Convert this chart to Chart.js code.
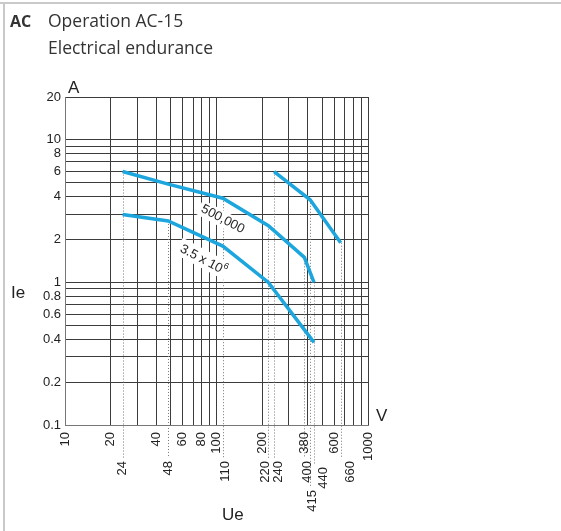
<!DOCTYPE html>
<html>
<head>
<meta charset="utf-8">
<script src="https://cdn.jsdelivr.net/npm/chart.js@4/dist/chart.umd.min.js"></script>
<style>
	body { margin: 0; background: #fff; }
	canvas { display: block; }
</style>
</head>
<body>
<canvas id="endurance" width="561" height="531"></canvas>
<script>
// Curve 500,000 operations
var volts500k = [24, 48, 110, 220, 380, 440];
var amps500k = [6, 4.9, 3.9, 2.5, 1.5, 1.0];

// Curve 3.5 x 10^6 operations
var volts35M = [24, 48, 110, 220, 440];
var amps35M = [3, 2.7, 1.8, 1.0, 0.38];

// Right-hand curve (no label)
var voltsRight = [240, 415, 660];
var ampsRight = [6, 3.8, 1.9];

// Grid and tick values
var yGrid = [0.1, 0.2, 0.3, 0.4, 0.5, 0.6, 0.7, 0.8, 0.9, 1, 2, 3, 4, 5, 6, 7, 8, 9, 10, 20];
var yLabels = [0.1, 0.2, 0.4, 0.6, 0.8, 1, 2, 4, 6, 8, 10, 20];
var xGrid = [10, 20, 30, 40, 50, 60, 70, 80, 90, 100, 200, 300, 400, 500, 600, 700, 800, 900, 1000];
var xLabelsUpper = [10, 20, 40, 60, 80, 100, 200, 380, 600, 1000];
var xLabelsLower = [24, 48, 110, 220, 240, 400, 415, 440, 660];

// Rated voltages marked with dotted drop lines, and the current where each drop starts
var markVolts = [24, 48, 110, 220, 240, 380, 415, 440, 660];
var markAmps = [6, 2.7, 3.9, 2.5, 6, 1.5, 3.8, 1.0, 1.9];

var blue = '#1ca6dd';
var gridColor = '#3c3c3c';
var textColor = '#222';
var chartFont = 'Arial, "Liberation Sans", sans-serif';
var titleFont = '"Open Sans", "Noto Sans", sans-serif';

function toPoints(xs, ys) {
	var pts = [];
	for(var i = 0; i < xs.length; i++) {
		pts.push({ x: xs[i], y: ys[i] });
	}
	return pts;
}

function curve(xs, ys) {
	return {
		data: toPoints(xs, ys),
		borderColor: blue,
		borderWidth: 3.5,
		pointRadius: 0,
		tension: 0,
		fill: false,
		borderCapStyle: 'butt'
	};
}

// extra depth of each lower label below the axis
function lowerDepth(v) {
	if(v === 415) return 65;
	if(v === 440) return 42;
	return 36;
}

// sideways nudge so crowded labels don't sit on top of each other
function lowerShift(v) {
	if(v === 110) return 3;
	if(v === 220) return -3;
	if(v === 240) return 4;
	if(v === 415) return 2;
	if(v === 440) return 9;
	if(v === 660) return 10;
	return 0;
}

var decorations = {
	id: 'decorations',
	beforeDatasetsDraw: function(chart) {
		var ctx = chart.ctx;
		var x = chart.scales.x;
		var y = chart.scales.y;
		var bottom = chart.chartArea.bottom;

		ctx.save();
		ctx.strokeStyle = '#777';
		ctx.lineWidth = 1;
		ctx.setLineDash([1, 2]);
		for(var i = 0; i < markVolts.length; i++) {
			var px = Math.round(x.getPixelForValue(markVolts[i])) + 0.5;
			ctx.beginPath();
			ctx.moveTo(px, y.getPixelForValue(markAmps[i]));
			ctx.lineTo(px, bottom + lowerDepth(markVolts[i]) - 3);
			ctx.stroke();
		}
		ctx.restore();
	},
	afterDatasetsDraw: function(chart) {
		var ctx = chart.ctx;
		var x = chart.scales.x;
		var y = chart.scales.y;
		var angle = 28 * Math.PI / 180;

		ctx.save();
		ctx.font = '13px ' + chartFont;
		ctx.textBaseline = 'middle';
		ctx.textAlign = 'center';

		// 500,000 label
		ctx.save();
		ctx.translate(x.getPixelForValue(110), y.getPixelForValue(3.9) + 21);
		ctx.rotate(angle);
		var w = ctx.measureText('500,000').width;
		ctx.fillStyle = '#fff';
		ctx.fillRect(-w / 2 - 3, -8, w + 6, 16);
		ctx.fillStyle = textColor;
		ctx.fillText('500,000', 0, 0);
		ctx.restore();

		// 3.5 x 10^6 label
		ctx.save();
		ctx.translate(x.getPixelForValue(82), y.getPixelForValue(1.8) + 14);
		ctx.rotate(angle);
		var base = '3.5 x 10';
		var bw = ctx.measureText(base).width;
		ctx.font = '9px ' + chartFont;
		var sw = ctx.measureText('6').width;
		var total = bw + sw;
		ctx.fillStyle = '#fff';
		ctx.fillRect(-total / 2 - 3, -10, total + 6, 18);
		ctx.fillStyle = textColor;
		ctx.textAlign = 'left';
		ctx.fillText('6', -total / 2 + bw, -5);
		ctx.font = '13px ' + chartFont;
		ctx.fillText(base, -total / 2, 0);
		ctx.restore();

		ctx.restore();
	},
	afterDraw: function(chart) {
		var ctx = chart.ctx;
		var x = chart.scales.x;
		var area = chart.chartArea;

		ctx.save();

		// frame on the left and top
		ctx.fillStyle = '#c9c9c9';
		ctx.fillRect(0, 2, 561, 2);
		ctx.fillRect(3, 2, 2, 529);

		// title block
		ctx.fillStyle = '#333';
		ctx.textBaseline = 'alphabetic';
		ctx.textAlign = 'left';
		ctx.font = 'bold 16px ' + titleFont;
		ctx.fillText('AC', 10, 27);
		ctx.font = '17.5px ' + titleFont;
		ctx.fillText('Operation AC-15', 48, 27);
		ctx.fillText('Electrical endurance', 48, 54);

		// axis units and names
		ctx.fillStyle = textColor;
		ctx.font = '17px ' + chartFont;
		ctx.fillText('A', area.left + 3, area.top - 4);
		ctx.fillText('V', area.right + 8, area.bottom - 4);
		ctx.fillText('Ie', 11, 298);
		ctx.fillText('Ue', 222, 520);

		// rotated voltage labels
		ctx.font = '13px ' + chartFont;
		ctx.textBaseline = 'middle';
		ctx.textAlign = 'right';
		var i, px;
		for(i = 0; i < xLabelsUpper.length; i++) {
			px = x.getPixelForValue(xLabelsUpper[i]);
			ctx.save();
			ctx.translate(px, area.bottom + 7);
			ctx.rotate(-Math.PI / 2);
			ctx.fillText(String(xLabelsUpper[i]), 0, 0);
			ctx.restore();
		}
		for(i = 0; i < xLabelsLower.length; i++) {
			px = x.getPixelForValue(xLabelsLower[i]) + lowerShift(xLabelsLower[i]);
			ctx.save();
			ctx.translate(px, area.bottom + lowerDepth(xLabelsLower[i]));
			ctx.rotate(-Math.PI / 2);
			ctx.fillText(String(xLabelsLower[i]), 0, 0);
			ctx.restore();
		}

		ctx.restore();
	}
};

var config = {
	type: 'line',
	data: {
		datasets: [
			curve(volts500k, amps500k),
			curve(volts35M, amps35M),
			curve(voltsRight, ampsRight)
		]
	},
	options: {
		responsive: false,
		animation: false,
		layout: {
			padding: { top: 97, right: 193, left: 0, bottom: 0 }
		},
		plugins: {
			legend: { display: false },
			tooltip: { enabled: false }
		},
		scales: {
			x: {
				type: 'logarithmic',
				min: 10,
				max: 1000,
				afterBuildTicks: function(scale) {
					scale.ticks = xGrid.map(function(v) { return { value: v }; });
				},
				afterFit: function(scale) {
					scale.height = 106;
				},
				ticks: { display: false },
				grid: { color: gridColor, drawTicks: false },
				border: { color: '#777' }
			},
			y: {
				type: 'logarithmic',
				min: 0.1,
				max: 20,
				afterBuildTicks: function(scale) {
					scale.ticks = yGrid.map(function(v) { return { value: v }; });
				},
				afterFit: function(scale) {
					scale.width = 65;
				},
				ticks: {
					autoSkip: false,
					padding: 4,
					color: textColor,
					font: { family: chartFont, size: 13 },
					callback: function(value) {
						return yLabels.indexOf(value) >= 0 ? String(value) : '';
					}
				},
				grid: { color: gridColor, drawTicks: false },
				border: { color: '#777' }
			}
		}
	},
	plugins: [decorations]
};

var chart = new Chart(document.getElementById('endurance').getContext('2d'), config);
</script>
</body>
</html>
